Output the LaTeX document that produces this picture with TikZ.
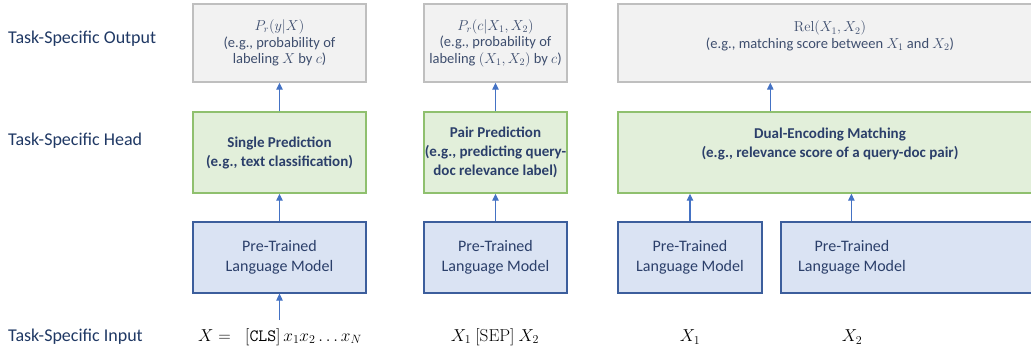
\documentclass[tikz,border=0pt]{standalone}
\usepackage[no-math]{fontspec}
\setmainfont{Carlito}
\usetikzlibrary{arrows.meta,positioning,calc}
\definecolor{navy}{HTML}{1F3864}
\definecolor{boxtxt}{HTML}{2B3F6A}
\definecolor{outtxt}{HTML}{3E4E6E}
\definecolor{grayfill}{HTML}{F2F2F2}
\definecolor{grayline}{HTML}{BFBFBF}
\definecolor{greenfill}{HTML}{E2EFDA}
\definecolor{greenline}{HTML}{8FC06E}
\definecolor{bluefill}{HTML}{DAE3F3}
\definecolor{blueline}{HTML}{3C5E9C}
\definecolor{arrowc}{HTML}{4472C4}
\tikzset{
  rowlabel/.style={anchor=west,text=navy,font=\fontsize{18}{21}\selectfont,inner sep=0pt},
  outbox/.style={draw=grayline,fill=grayfill,line width=1.4pt,minimum height=78pt,inner sep=0pt,align=center,text=outtxt,font=\fontsize{14.5}{16.5}\selectfont},
  headbox/.style={draw=greenline,fill=greenfill,line width=1.4pt,minimum height=81pt,inner sep=0pt,align=center,text=boxtxt,font=\fontsize{15}{19}\selectfont\bfseries},
  plmbox/.style={draw=blueline,fill=bluefill,line width=1.2pt,minimum height=71pt,inner sep=0pt,align=center,text=boxtxt,font=\fontsize{16}{20}\selectfont},
  intext/.style={text=black,font=\fontsize{18}{20}\selectfont,inner sep=0pt},
  arr/.style={draw=arrowc,line width=1.1pt,-{Triangle[width=6.5pt,length=7pt]}}
}
\begin{document}
\begin{tikzpicture}[x=1pt,y=-1pt]
\useasboundingbox (0,0) rectangle (1031,353);
\clip (0,0) rectangle (1031,353);
% row labels
\node[rowlabel] (lout) at (8,39) {Task-Specific Output};
\node[rowlabel] (lhead) at (8,141) {Task-Specific Head};
\node[rowlabel] (lin) at (8,337) {Task-Specific Input};
% output boxes
\node[outbox,minimum width=173pt] (o1) at (279.5,43) {$P_r(y|X)$\\(e.g., probability of\\labeling $X$ by $c$)};
\node[outbox,minimum width=143pt] (o2) at (495.5,43) {$P_r(c|X_1,X_2)$\\(e.g., probability of\\labeling $(X_1,X_2)$ by $c$)};
\node[outbox,minimum width=424pt] (o3) at (830,43) {$\mathrm{Rel}(X_1,X_2)$\\(e.g., matching score between $X_1$ and $X_2$)\\\mbox{}};
% head boxes
\node[headbox,minimum width=173pt] (h1) at (279.5,152.5) {Single Prediction\\(e.g., text classification)};
\node[headbox,minimum width=143pt] (h2) at (495.5,152.5) {Pair Prediction\\(e.g., predicting query-\\doc relevance label)};
\node[headbox,minimum width=424pt] (h3) at (830,152.5) {Dual-Encoding Matching\\(e.g., relevance score of a query-doc pair)\\\mbox{}};
% PLM boxes
\node[plmbox,minimum width=173pt] (p1) at (279.5,257.5) {Pre-Trained\\Language Model};
\node[plmbox,minimum width=143pt] (p2) at (495.5,257.5) {Pre-Trained\\Language Model};
\node[plmbox,minimum width=144pt] (p3) at (690,257.5) {Pre-Trained\\Language Model};
\node[plmbox,minimum width=260pt] (p4) at (911,257.5) {\hspace*{-118pt}\begin{tabular}{@{}c@{}}Pre-Trained\\Language Model\end{tabular}};
% inputs
\node[intext] (in1) at (280,337) {$X =\;\;\mathtt{[CLS]}\,x_1x_2\ldots x_N$};
\node[intext] (in2) at (495,337) {$X_1\ \mathrm{[SEP]}\ X_2$};
\node[intext] (in3) at (690,337) {$X_1$};
\node[intext] (in4) at (852,337) {$X_2$};
\coordinate (in1top) at (279.5,320);
% arrows
\draw[arr] (h1.north) -- (o1.south);
\draw[arr] (h2.north) -- (o2.south);
\draw[arr] ([xshift=153pt]h3.north west) -- ([xshift=153pt]o3.south west);
\draw[arr] (p1.north) -- (h1.south);
\draw[arr] (p2.north) -- (h2.south);
\draw[arr] (p3.north) -- (p3.north |- h3.south);
\draw[arr] ([xshift=71pt]p4.north west) -- ([xshift=71pt]p4.north west |- h3.south);
\draw[arr] (in1top) -- (p1.south);
\end{tikzpicture}
\end{document}
